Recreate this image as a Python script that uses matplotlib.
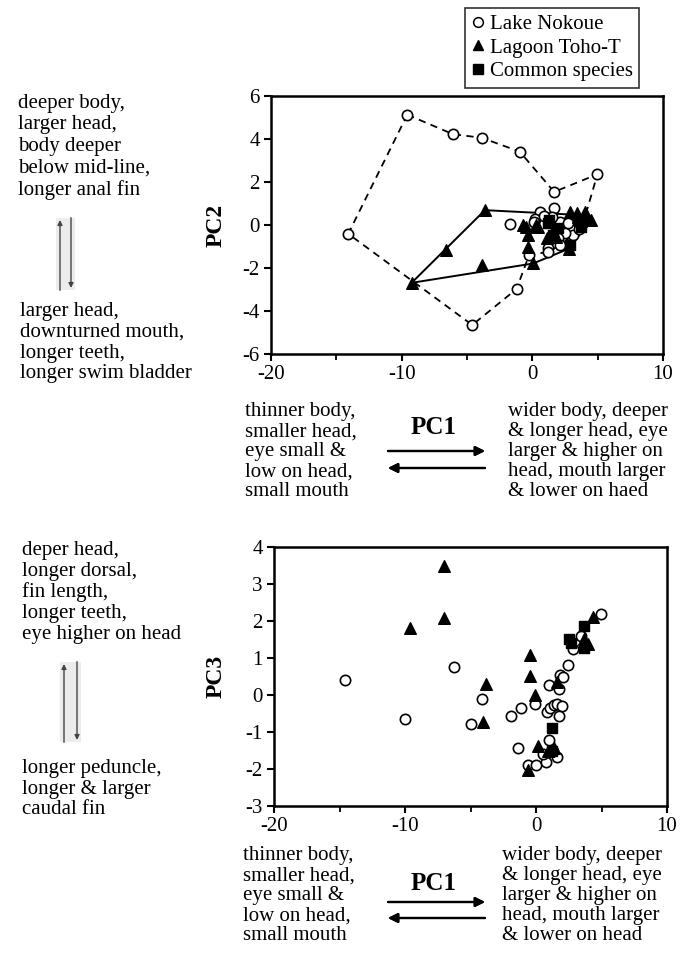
# ------------
# Importations
# ------------
import matplotlib.pyplot as plt
from matplotlib.lines import Line2D
from matplotlib.patches import Rectangle

plt.rcParams['font.family'] = ['Liberation Serif', 'DejaVu Serif']
plt.rcParams['axes.unicode_minus'] = False

# -------
# Donnees
# -------

# --- PC1 / PC2 (graphique du haut)
nok_pc1 = [-9.57, -6.06, -3.89, -0.96, 1.67, 4.98, -1.21, -4.60, -14.09,
           -1.71, 1.68, 0.58, 0.20, 0.15, 2.11, 3.13, 2.49, 1.98, 1.22,
           -0.25, 2.10, 1.20, 3.60, 1.50, 2.70, 3.90, 0.90]
nok_pc2 = [5.13, 4.22, 4.06, 3.41, 1.54, 2.36, -2.98, -4.65, -0.41,
           0.03, 0.80, 0.62, 0.30, 0.15, 0.15, -0.47, -0.39, -0.62, -1.08,
           -1.40, -0.94, -1.25, -0.20, 0.35, 0.10, 0.10, 0.40]
nok_hull = [0, 1, 2, 3, 4, 5, 25, 15, 20, 21, 19, 6, 7, 8, 0]

toho_pc1 = [-3.63, -9.24, 0.06, 2.80, 4.48, 4.14, -6.62, -3.89, -0.51,
            -0.31, 0.45, 2.88, 3.39, 1.16, -0.31, 1.80, 3.50, 0.31, -0.70,
            1.60, 4.02]
toho_pc2 = [0.69, -2.69, -1.79, -1.10, 0.23, 0.45, -1.17, -1.84, -0.08,
            -0.47, -0.08, 0.62, 0.55, -0.59, -1.01, -0.55, 0.38, 0.00, 0.00,
            -0.30, 0.62]
toho_hull = [0, 5, 4, 3, 2, 1, 0]

com_pc1 = [1.22, 1.98, 3.72, 2.88, 1.30, 3.60, 1.60]
com_pc2 = [0.08, -0.15, -0.08, -0.93, 0.22, 0.20, -0.45]

# --- PC1 / PC3 (graphique du bas)
nok_pc1_b = [-14.55, -10.03, -6.26, -4.10, -4.94, -1.92, -1.12, -1.38, -0.08,
             -0.60, -0.03, 0.78, 0.96, 1.61, 0.96, 1.74, 0.83, 1.09, 1.35,
             1.61, 2.00, 1.74, 1.87, 2.05, 2.44, 2.86, 3.43, 4.94, 1.30, 0.50]
nok_pc3 = [0.40, -0.65, 0.76, -0.10, -0.78, -0.56, -0.35, -1.44, -0.24,
           -1.89, -1.89, -1.80, -1.21, -1.68, 0.26, 0.15, -0.47, -0.35, -0.26,
           -0.24, -0.31, -0.58, 0.55, 0.50, 0.82, 1.25, 1.60, 2.20, -1.50, -1.60]

toho_pc1_b = [-7.01, -7.01, -9.61, -0.47, -0.47, -0.08, -3.79, -4.03, -0.60,
              0.18, 1.35, 1.61, 4.34, 3.69, 3.95, 0.90]
toho_pc3 = [3.50, 2.07, 1.80, 1.07, 0.51, 0.01, 0.31, -0.74, -2.03,
            -1.39, -1.42, 0.35, 2.10, 1.51, 1.37, -1.50]

com_pc1_b = [2.52, 3.69, 1.22, 3.69, 2.70, 1.20]
com_pc3 = [1.51, 1.87, -0.90, 1.28, 1.40, -1.50]

legend_labels = ['Lake Nokoue', 'Lagoon Toho-T', 'Common species']

txt_pc2_haut = "deeper body,\nlarger head,\nbody deeper\nbelow mid-line,\nlonger anal fin"
txt_pc2_bas = "larger head,\ndownturned mouth,\nlonger teeth,\nlonger swim bladder"
txt_pc3_haut = "deper head,\nlonger dorsal,\nfin length,\nlonger teeth,\neye higher on head"
txt_pc3_bas = "longer peduncle,\nlonger & larger\ncaudal fin"
txt_pc1_gauche = "thinner body,\nsmaller head,\neye small &\nlow on head,\nsmall mouth"
txt_pc1_droite_1 = ("wider body, deeper\n& longer head, eye\nlarger & higher on\n"
                    "head, mouth larger\n& lower on haed")
txt_pc1_droite_2 = ("wider body, deeper\n& longer head, eye\nlarger & higher on\n"
                    "head, mouth larger\n& lower on head")

W, H = 691, 966
FS = 15


def fp(px, py):
    # pixels (origine en haut a gauche) -> fraction de figure
    return px / W, 1 - py / H


def nuage(ax, x1, y1, x2, y2, x3, y3):
    ax.scatter(x1, y1, s=55, facecolor='white', edgecolor='black', linewidth=1.2, zorder=3)
    ax.scatter(x2, y2, s=70, marker='^', color='black', zorder=4)
    ax.scatter(x3, y3, s=55, marker='s', color='black', zorder=4)


def style_axes(ax):
    ax.set_xlim(-20, 10)
    ax.set_xticks([-20, -10, 0, 10])
    ax.set_xticks([-15, -5, 5], minor=True)
    for s in ax.spines.values():
        s.set_linewidth(1.8)
    ax.tick_params(which='major', direction='out', length=5, width=1.5, labelsize=FS, pad=3)
    ax.tick_params(which='minor', direction='out', length=4, width=1.3)


def fleche_h(y, sens):
    x0, y0 = fp(388, y)
    x1, y1 = fp(485, y)
    if sens < 0:
        x0, x1 = x1, x0
    fig.add_artist(plt.annotate('', xy=(x1, y1), xytext=(x0, y0), xycoords='figure fraction',
                                arrowprops=dict(arrowstyle='-|>', lw=1.6, color='black',
                                                mutation_scale=14, shrinkA=0, shrinkB=0)))


def fleche_v(px_l, px_r, py_top, py_bot):
    x, y = fp(px_l - 4, py_bot)
    w = (px_r - px_l + 8) / W
    h = (py_bot - py_top) / H
    fig.add_artist(Rectangle((x, y), w, h, transform=fig.transFigure,
                             facecolor='#ececec', edgecolor='none'))
    a0 = fp(px_l, py_bot)
    a1 = fp(px_l, py_top + 2)
    fig.add_artist(plt.annotate('', xy=a1, xytext=a0, xycoords='figure fraction',
                                arrowprops=dict(arrowstyle='-|>', lw=1.0, color='#444444',
                                                mutation_scale=7, shrinkA=0, shrinkB=0)))
    b0 = fp(px_r, py_top)
    b1 = fp(px_r, py_bot - 2)
    fig.add_artist(plt.annotate('', xy=b1, xytext=b0, xycoords='figure fraction',
                                arrowprops=dict(arrowstyle='-|>', lw=1.0, color='#444444',
                                                mutation_scale=7, shrinkA=0, shrinkB=0)))


# -------------------
# Programme principal
# -------------------
fig = plt.figure(figsize=(W / 100, H / 100), dpi=100)

# ----- graphique du haut : PC1 / PC2
ax1 = fig.add_axes([271 / W, 1 - 354 / H, 392 / W, 258 / H])
ax1.plot([nok_pc1[i] for i in nok_hull], [nok_pc2[i] for i in nok_hull],
         linestyle=(0, (4, 3)), color='black', lw=1.3, zorder=2)
ax1.plot([toho_pc1[i] for i in toho_hull], [toho_pc2[i] for i in toho_hull],
         color='black', lw=1.4, zorder=2)
nuage(ax1, nok_pc1, nok_pc2, toho_pc1, toho_pc2, com_pc1, com_pc2)
style_axes(ax1)
ax1.set_ylim(-6, 6)
ax1.set_yticks([-6, -4, -2, 0, 2, 4, 6])
ax1.set_ylabel('PC2', fontsize=17, fontweight='bold')
ax1.yaxis.set_label_coords(-0.112, 0.5)

# ----- graphique du bas : PC1 / PC3
ax2 = fig.add_axes([274 / W, 1 - 806 / H, 393 / W, 259 / H])
nuage(ax2, nok_pc1_b, nok_pc3, toho_pc1_b, toho_pc3, com_pc1_b, com_pc3)
style_axes(ax2)
ax2.set_ylim(-3, 4)
ax2.set_yticks([-3, -2, -1, 0, 1, 2, 3, 4])
ax2.set_ylabel('PC3', fontsize=17, fontweight='bold')
ax2.yaxis.set_label_coords(-0.12, 0.5)

# ----- legende
handles = [Line2D([], [], marker='o', ls='none', mfc='white', mec='black', mew=1.1, ms=7),
           Line2D([], [], marker='^', ls='none', color='black', ms=7),
           Line2D([], [], marker='s', ls='none', color='black', ms=7)]
leg = fig.legend(handles, legend_labels, loc='upper left', bbox_to_anchor=fp(465, 8),
                 fontsize=FS, frameon=True, fancybox=False, edgecolor='black',
                 handlelength=0.6, handletextpad=0.3, labelspacing=0.2,
                 borderpad=0.3, borderaxespad=0)
leg.get_frame().set_linewidth(1.2)

# ----- textes de gauche
ls_g = 1.17
fig.text(*fp(18, 94), txt_pc2_haut, fontsize=FS, va='top', ha='left', linespacing=ls_g)
fig.text(*fp(20, 302), txt_pc2_bas, fontsize=FS, va='top', ha='left', linespacing=1.13)
fig.text(*fp(22, 541), txt_pc3_haut, fontsize=FS, va='top', ha='left', linespacing=1.12)
fig.text(*fp(22, 759), txt_pc3_bas, fontsize=FS, va='top', ha='left', linespacing=1.12)
fleche_v(60, 71, 218, 290)
fleche_v(64, 77, 662, 742)

# ----- textes PC1 sous les graphiques
ls_b = 1.08
fig.text(*fp(245, 402), txt_pc1_gauche, fontsize=FS, va='top', ha='left', linespacing=ls_b)
fig.text(*fp(508, 402), txt_pc1_droite_1, fontsize=FS, va='top', ha='left', linespacing=ls_b)
fig.text(*fp(434, 428), 'PC1', fontsize=18, fontweight='bold', ha='center', va='center')
fleche_h(451, 1)
fleche_h(468, -1)

fig.text(*fp(243, 846), txt_pc1_gauche, fontsize=FS, va='top', ha='left', linespacing=ls_b)
fig.text(*fp(502, 846), txt_pc1_droite_2, fontsize=FS, va='top', ha='left', linespacing=ls_b)
fig.text(*fp(434, 884), 'PC1', fontsize=18, fontweight='bold', ha='center', va='center')
fleche_h(902, 1)
fleche_h(918, -1)

plt.savefig('out.png', dpi=100)
